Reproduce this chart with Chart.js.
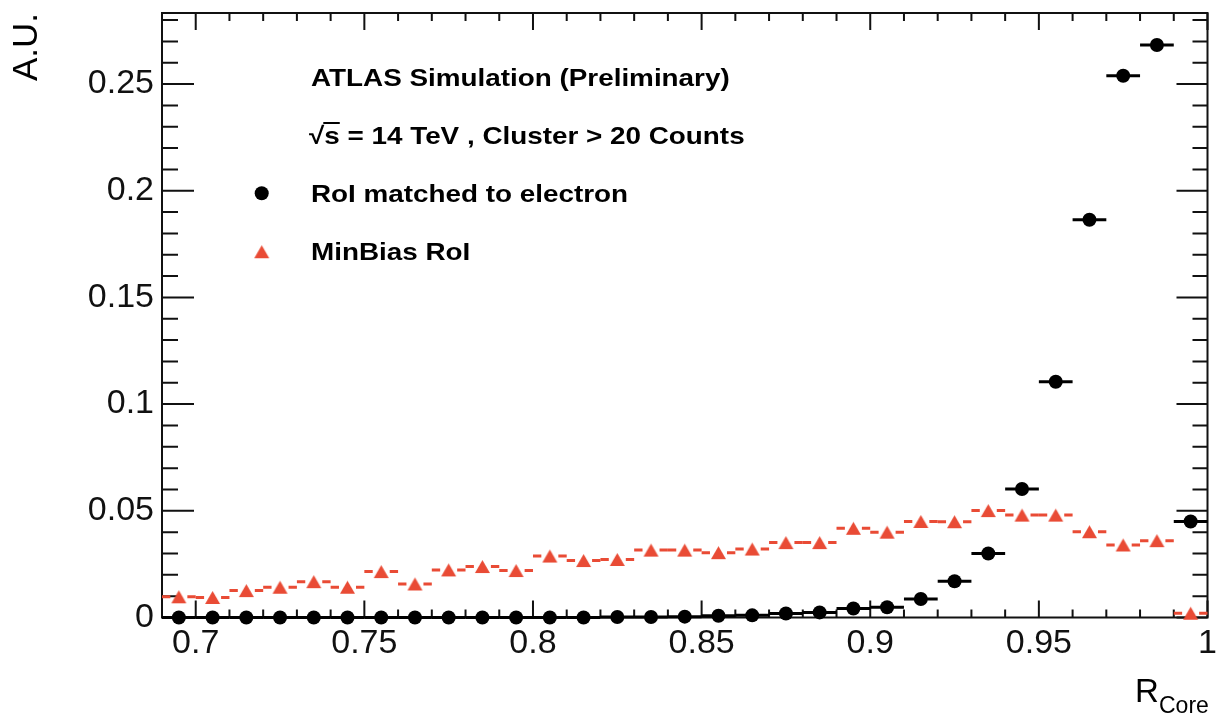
<!DOCTYPE html>
<html>
<head>
<meta charset="utf-8">
<script src="https://cdn.jsdelivr.net/npm/chart.js@4.4.1/dist/chart.umd.min.js"></script>
<style>
  html, body { margin: 0; padding: 0; background: #fff; }
  canvas { display: block; }
</style>
</head>
<body>
<canvas id="chart" width="1217" height="718"></canvas>
<script>
const binCenters = [0.695, 0.705, 0.715, 0.725, 0.735, 0.745, 0.755, 0.765, 0.775, 0.785,
  0.795, 0.805, 0.815, 0.825, 0.835, 0.845, 0.855, 0.865, 0.875, 0.885,
  0.895, 0.905, 0.915, 0.925, 0.935, 0.945, 0.955, 0.965, 0.975, 0.985, 0.995];
const binWidth = 0.01;
const electronValues = [0, 0, 0, 0, 0, 0, 0, 0, 0, 0,
  0, 0, 0, 0.0002, 0.0002, 0.0004, 0.0008, 0.001, 0.0019, 0.0024,
  0.0042, 0.0048, 0.0087, 0.017, 0.03, 0.0602, 0.1105, 0.1864, 0.2539, 0.2683, 0.045];
const minBiasValues = [0.0097, 0.0094, 0.0126, 0.0142, 0.0168, 0.0142, 0.0215, 0.0157, 0.0223, 0.0239,
  0.022, 0.0288, 0.0267, 0.0272, 0.0316, 0.0316, 0.0304, 0.0321, 0.0351, 0.0351,
  0.0418, 0.04, 0.045, 0.0449, 0.0501, 0.048, 0.048, 0.0402, 0.034, 0.036, 0.002];
const seriesNames = ["RoI matched to electron", "MinBias RoI"];
const headerLines = ["ATLAS Simulation (Preliminary)", "s = 14 TeV , Cluster > 20 Counts"];
const xTickValues = [0.7, 0.75, 0.8, 0.85, 0.9, 0.95, 1.0];
const xTickLabels = ["0.7", "0.75", "0.8", "0.85", "0.9", "0.95", "1"];
const yTickValues = [0, 0.05, 0.1, 0.15, 0.2, 0.25];
const yTickLabels = ["0", "0.05", "0.1", "0.15", "0.2", "0.25"];
const xRange = [0.69, 1.0];
const yRange = [0, 0.2833];

const RED = "#e94b35";
const INK = "#111";
const FONT = "'Liberation Sans', Arial, Helvetica, sans-serif";

// ROOT-like triangle marker, centred on its bounding box
const triangle = document.createElement("canvas");
triangle.width = 17;
triangle.height = 17;
(() => {
  const t = triangle.getContext("2d");
  t.fillStyle = RED;
  t.beginPath();
  t.moveTo(8.5, 2);
  t.lineTo(16, 15);
  t.lineTo(1, 15);
  t.closePath();
  t.fill();
})();

function labelFor(values, labels, v) {
  const i = values.findIndex((t) => Math.abs(t - v) < 1e-9);
  return i < 0 ? "" : labels[i];
}

function drawBars(ctx, xs, ys, values, color, gap) {
  ctx.strokeStyle = color;
  ctx.lineWidth = 3;
  binCenters.forEach((c, i) => {
    const x0 = xs.getPixelForValue(c - binWidth / 2);
    const x1 = xs.getPixelForValue(c + binWidth / 2);
    const xc = xs.getPixelForValue(c);
    const y = ys.getPixelForValue(values[i]);
    ctx.beginPath();
    if (gap) {
      ctx.moveTo(x0, y); ctx.lineTo(xc - gap, y);
      ctx.moveTo(xc + gap, y); ctx.lineTo(x1, y);
    } else {
      ctx.moveTo(x0, y); ctx.lineTo(x1, y);
    }
    ctx.stroke();
  });
}

function stretched(ctx, text, x, y, sx) {
  ctx.save();
  ctx.translate(x, y);
  ctx.scale(sx, 1);
  ctx.fillText(text, 0, 0);
  ctx.restore();
  return ctx.measureText(text).width * sx;
}

const rootFrame = {
  id: "rootFrame",
  beforeDatasetsDraw(chart) {
    const { ctx, chartArea: a, scales: { x, y } } = chart;
    ctx.save();
    ctx.strokeStyle = INK;
    ctx.lineWidth = 2;
    ctx.strokeRect(a.left, a.top, a.right - a.left, a.bottom - a.top);
    ctx.beginPath();
    for (let k = 69; k <= 100; k++) {
      const px = x.getPixelForValue(k / 100);
      const len = k % 5 === 0 ? 17 : 8;
      ctx.moveTo(px, a.bottom); ctx.lineTo(px, a.bottom - len);
      ctx.moveTo(px, a.top); ctx.lineTo(px, a.top + len);
    }
    for (let k = 0; k <= 28; k++) {
      const py = y.getPixelForValue(k / 100);
      const major = k % 5 === 0;
      ctx.moveTo(a.left, py); ctx.lineTo(a.left + (major ? 32 : 16), py);
      ctx.moveTo(a.right, py); ctx.lineTo(a.right - (major ? 31 : 15), py);
    }
    ctx.stroke();
    ctx.lineCap = "butt";
    drawBars(ctx, x, y, minBiasValues, RED, 8.5);
    drawBars(ctx, x, y, electronValues, "#000", 0);
    ctx.restore();
  },
  afterDraw(chart) {
    const { ctx } = chart;
    ctx.save();
    ctx.fillStyle = "#000";
    ctx.textBaseline = "alphabetic";
    ctx.font = `bold 24px ${FONT}`;
    const sx = 1.16;
    const tx = 311;
    stretched(ctx, headerLines[0], tx, 86, sx);
    // sqrt(s) with an overbar, then the rest of the line
    const wRoot = stretched(ctx, "\u221A", tx - 2, 144, sx);
    const wS = ctx.measureText("s").width * sx;
    stretched(ctx, headerLines[1], tx - 2 + wRoot, 144, sx);
    ctx.strokeStyle = "#000";
    ctx.lineWidth = 2;
    ctx.beginPath();
    ctx.moveTo(tx - 3 + wRoot, 123);
    ctx.lineTo(tx - 2 + wRoot + wS, 123);
    ctx.stroke();
    stretched(ctx, seriesNames[0], tx, 202, sx);
    stretched(ctx, seriesNames[1], tx, 260, sx);
    ctx.beginPath();
    ctx.arc(261.7, 193.3, 7, 0, Math.PI * 2);
    ctx.fill();
    ctx.drawImage(triangle, 261.7 - 8.5, 251.7 - 8.5);

    // axis titles
    ctx.font = `35px ${FONT}`;
    ctx.save();
    ctx.translate(37, 13);
    ctx.rotate(-Math.PI / 2);
    ctx.textAlign = "right";
    ctx.fillText("A.U.", 0, 0);
    ctx.restore();
    ctx.font = `33px ${FONT}`;
    ctx.textAlign = "left";
    ctx.fillText("R", 1135, 702);
    ctx.font = `23px ${FONT}`;
    ctx.fillText("Core", 1159, 713);
    ctx.restore();
  }
};

const ctx = document.getElementById("chart");
new Chart(ctx, {
  type: "scatter",
  data: {
    datasets: [
      {
        label: seriesNames[0],
        data: binCenters.map((c, i) => ({ x: c, y: electronValues[i] })),
        pointStyle: "circle",
        pointRadius: 7,
        pointBackgroundColor: "#000",
        pointBorderWidth: 0,
        showLine: false,
        clip: false
      },
      {
        label: seriesNames[1],
        data: binCenters.map((c, i) => ({ x: c, y: minBiasValues[i] })),
        pointStyle: triangle,
        pointRadius: 8.5,
        showLine: false,
        clip: false
      }
    ]
  },
  options: {
    responsive: false,
    devicePixelRatio: 1,
    animation: false,
    events: [],
    layout: { padding: { left: 0, right: 4, top: 13, bottom: 0 } },
    plugins: { legend: { display: false }, tooltip: { enabled: false } },
    scales: {
      x: {
        type: "linear",
        min: xRange[0],
        max: xRange[1],
        grid: { display: false, drawTicks: false },
        border: { display: false },
        afterBuildTicks: (s) => { s.ticks = xTickValues.map((v) => ({ value: v })); },
        afterFit: (s) => { s.height = 100.5; s.paddingLeft = 0; s.paddingRight = 0; },
        ticks: {
          autoSkip: false,
          maxRotation: 0,
          minRotation: 0,
          padding: 6,
          color: INK,
          font: { family: FONT, size: 34 },
          callback: (v) => labelFor(xTickValues, xTickLabels, v)
        }
      },
      y: {
        type: "linear",
        min: yRange[0],
        max: yRange[1],
        grid: { display: false, drawTicks: false },
        border: { display: false },
        afterBuildTicks: (s) => { s.ticks = yTickValues.map((v) => ({ value: v })); },
        afterFit: (s) => { s.width = 162; s.paddingTop = 0; s.paddingBottom = 0; },
        ticks: {
          autoSkip: false,
          padding: 8,
          color: INK,
          font: { family: FONT, size: 34 },
          callback: (v) => labelFor(yTickValues, yTickLabels, v)
        }
      }
    }
  },
  plugins: [rootFrame]
});
</script>
</body>
</html>
